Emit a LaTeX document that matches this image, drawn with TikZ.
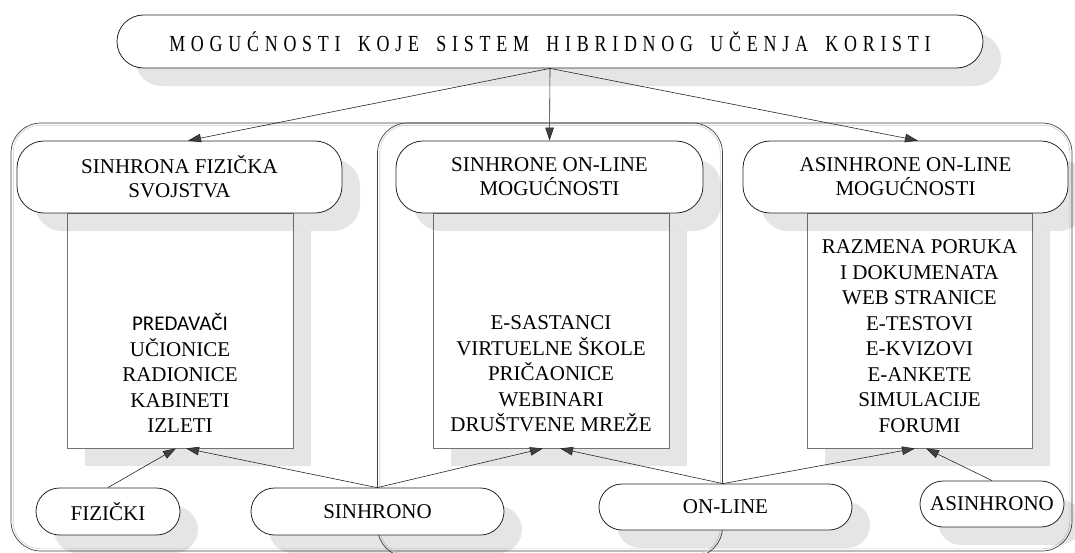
\documentclass[tikz,border=0pt]{standalone}
\usepackage{fontspec}
\setmainfont{Liberation Serif}
\newfontfamily\calfont{Carlito}
\newfontfamily\titlefont[LetterSpace=25,WordSpace=1.7,FakeStretch=0.78]{Liberation Serif}
\usetikzlibrary{shadows,arrows.meta}
\tikzset{
  shad/.style={general shadow={fill=black, fill opacity=0.1, shadow xshift=18pt, shadow yshift=-18pt}},
  capsule/.style={draw=black!85, line width=0.8pt, fill=white, rounded corners=#1, shad, inner sep=0pt, align=center, font=\fontsize{21}{24}\selectfont},
  hdr/.style={draw=black!85, line width=0.8pt, fill=white, rounded corners=27pt, shad, minimum height=72pt, inner sep=0pt, align=center, font=\fontsize{21}{24}\selectfont},
  lst/.style={draw=black!55, line width=0.8pt, fill=white, shad, minimum height=235pt, inner sep=0pt},
  txt/.style={align=center, inner sep=0pt, font=\fontsize{21}{25.5}\selectfont},
  cont/.style={draw=black!75, line width=0.7pt, rounded corners=30pt, inner sep=0pt},
  contin/.style={draw=black!18, line width=0.7pt, rounded corners=27.5pt},
  arr/.style={draw=black!85, line width=0.6pt, -{Triangle[length=13pt,width=8.5pt,fill=black!75]}}
}
\begin{document}
\begin{tikzpicture}[x=1pt,y=-1pt]
\useasboundingbox (0,0) rectangle (1075,552);
\clip (0,0) rectangle (1075,552);
% containers
\node[cont, minimum width=1061pt, minimum height=428pt] (oc) at (541.5,337) {};
\draw[contin] ([shift={(2.5,2.5)}]oc.north west) rectangle ([shift={(-2.5,-2.5)}]oc.south east);
\node[cont, minimum width=345pt, minimum height=434pt] (mc) at (550,340) {};
\draw[contin] ([shift={(2.5,2.5)}]mc.north west) rectangle ([shift={(-2.5,-2.5)}]mc.south east);
% title
\node[capsule=26.5pt, minimum width=866pt, minimum height=53pt, font=\titlefont\fontsize{23}{26}\selectfont] (title) at (550,41.5) {MOGUĆNOSTI KOJE SISTEM HIBRIDNOG UČENJA KORISTI};
% lists
\node[lst, minimum width=226pt] (r1) at (180,330.5) {};
\node[lst, minimum width=236pt] (r2) at (551,330.5) {};
\node[lst, minimum width=225pt] (r3) at (919.5,330.5) {};
\node[txt] (t1) at (180,373) {{\calfont PREDAVAČI}\\UČIONICE\\RADIONICE\\KABINETI\\IZLETI};
\node[txt] (t2) at (551,374) {E-SASTANCI\\VIRTUELNE ŠKOLE\\PRIČAONICE\\WEBINARI\\DRUŠTVENE MREŽE};
\node[txt] (t3) at (919.5,336) {RAZMENA PORUKA\\I DOKUMENATA\\WEB STRANICE\\E-TESTOVI\\E-KVIZOVI\\E-ANKETE\\SIMULACIJE\\FORUMI};
% headers
\node[hdr, minimum width=325pt] (h1) at (179.5,177) {SINHRONA FIZIČKA\\SVOJSTVA};
\node[hdr, minimum width=307pt] (h2) at (549.5,177) {SINHRONE ON-LINE\\MOGUĆNOSTI};
\node[hdr, minimum width=325pt] (h3) at (905.5,177) {ASINHRONE ON-LINE\\MOGUĆNOSTI};
% bottom nodes
\node[capsule=23.5pt, minimum width=144pt, minimum height=47pt] (fiz) at (108,511.5) {FIZIČKI};
\node[capsule=23.5pt, minimum width=253pt, minimum height=47pt] (sin) at (377.5,511.5) {SINHRONO};
\node[capsule=23pt, minimum width=253pt, minimum height=46pt] (onl) at (725.5,507) {ON-LINE};
\node[capsule=23pt, minimum width=144pt, minimum height=46pt] (asi) at (992,504) {ASINHRONO};
% arrows
\draw[arr] (title.south) -- ([xshift=8.5pt]h1.north);
\draw[arr] (title.south) -- (h2.north);
\draw[arr] (title.south) -- ([xshift=12.5pt]h3.north);
\draw[arr] (fiz.north) -- ([xshift=-4pt]r1.south);
\draw[arr] (mc.west |- sin.north) -- ([xshift=6pt]r1.south);
\draw[arr] (mc.west |- sin.north) -- ([xshift=-8pt]r2.south);
\draw[arr] (mc.east |- onl.north) -- ([xshift=9pt]r2.south);
\draw[arr] (mc.east |- onl.north) -- ([xshift=-4.5pt]r3.south);
\draw[arr] (asi.north) -- ([xshift=6.5pt]r3.south);
\end{tikzpicture}
\end{document}
